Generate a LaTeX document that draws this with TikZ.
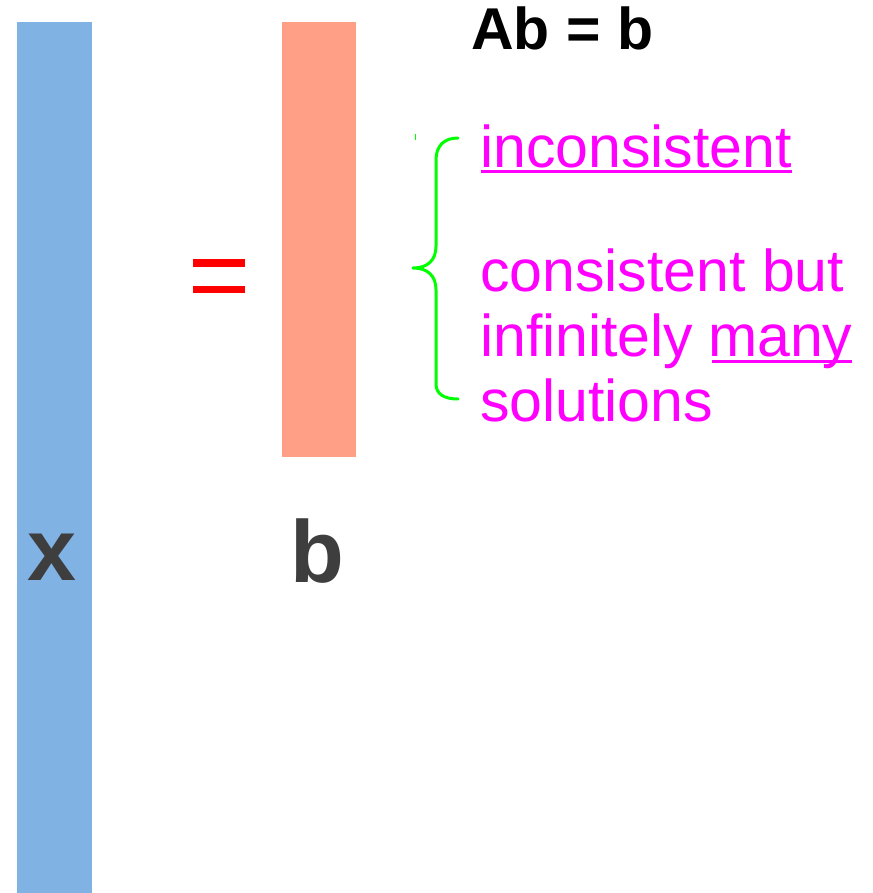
\documentclass[tikz,border=0pt]{standalone}
\usepackage{fontspec}
\setmainfont{Liberation Sans}
\definecolor{barblue}{RGB}{128,178,228}
\definecolor{barsalmon}{RGB}{255,160,134}
\definecolor{lettergray}{RGB}{62,62,62}
\definecolor{notemagenta}{RGB}{255,0,255}
\definecolor{bracegreen}{RGB}{0,255,0}
\begin{document}
\begin{tikzpicture}[
    x=1pt,
    y=-1pt,
    line join=round,
    line cap=round,
    note/.style={inner sep=0pt, anchor=base west, text=notemagenta,
        font=\fontsize{59}{59}\selectfont},
    letter/.style={inner sep=0pt, anchor=base, text=lettergray,
        font=\bfseries\fontsize{88}{88}\selectfont}
]
    \useasboundingbox (0,0) rectangle (872,893);

    % 两个向量
    \fill[barblue] (17,22) rectangle (91.5,893);
    \fill[barsalmon] (282,22) rectangle (356,457);

    % 等号
    \fill[red] (193,259) rectangle (245,267);
    \fill[red] (193,286) rectangle (245,293);

    % 字母
    \node[letter] (xlab) at (52,580) {x};
    \node[letter] (blab) at (317,582) {b};

    % 标题
    \node[inner sep=0pt, anchor=base west,
        font=\bfseries\fontsize{59}{59}\selectfont] (title) at (471,50) {Ab = b};

    % 两种情况
    \node[note] (incons) at (480,168) {inconsistent};
    \node[note] (cons) at (480,291) {consistent but};
    \node[note] (inf) at (480,356) {infinitely};
    \node[note] (many) at (708,356) {many};
    \node[note] (sol) at (480,421) {solutions};

    % 下划线
    \draw[notemagenta, line width=3pt, line cap=butt]
        ([xshift=1pt, yshift=-3.5pt]incons.base west) -- ([yshift=-3.5pt]incons.base east);
    \draw[notemagenta, line width=3pt, line cap=butt]
        ([xshift=4pt, yshift=-5pt]many.base west) -- ([xshift=-1pt, yshift=-5pt]many.base east);

    % 大括号
    \draw[bracegreen, line width=3pt]
        (458,138) .. controls (444,138) and (436,146) .. (436,160)
        -- (436,246) .. controls (436,260) and (428,268) .. (413,268)
        .. controls (428,268) and (436,276) .. (436,290)
        -- (436,384) .. controls (436,394) and (444,399) .. (458,399);
    \draw[bracegreen, line width=1pt, line cap=butt] (415,134) -- (415,140);

\end{tikzpicture}
\end{document}
